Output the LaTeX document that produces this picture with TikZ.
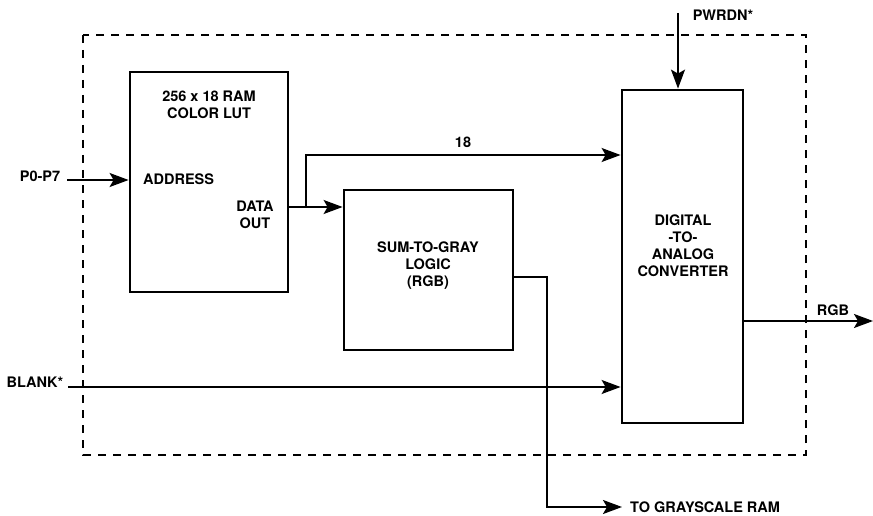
\documentclass[tikz,border=0pt]{standalone}
\usepackage{fontspec}
\setmainfont{TeX Gyre Heros}
\usetikzlibrary{arrows.meta,positioning}
\tikzset{
  blk/.style={draw, line width=2.8pt, inner sep=0pt},
  txt/.style={font=\bfseries\fontsize{14.5}{17}\selectfont, align=center, inner sep=0pt},
  sig/.style={line width=1.7pt, -{Stealth[length=19pt,width=14pt,inset=4pt]}}
}
\begin{document}
\begin{tikzpicture}[x=1pt,y=-1pt]
\useasboundingbox (0,0) rectangle (873,516);
% chip outline
\draw[line width=1.8pt, dash pattern=on 8pt off 7pt] (83,35) rectangle (806,455);
% blocks
\node[blk, minimum width=158pt, minimum height=220pt] (lut) at (209,182) {};
\node[blk, minimum width=169pt, minimum height=160pt] (gray) at (428.5,270) {};
\node[blk, minimum width=121pt, minimum height=333pt] (dac) at (682.5,256.5) {};
% block texts
\node[txt, below=20pt of lut.north] (luttitle) {256 x 18 RAM\\COLOR LUT};
\node[txt, anchor=west] (addr) at (143,179) {ADDRESS};
\node[txt] (dataout) at (255,214.5) {DATA\\OUT};
\node[txt] (graytext) at (428,266) {SUM-TO-GRAY\\LOGIC\\(RGB)};
\node[txt] (dactext) at (683,246) {DIGITAL\\-TO-\\ANALOG\\CONVERTER};
% signal names
\node[txt] (p0label) at (40,176) {P0-P7};
\node[txt] (blanklabel) at (35,382) {BLANK*};
\node[txt] (pwrlabel) at (723,15) {PWRDN*};
\node[txt] (rgblabel) at (833,310) {RGB};
\node[txt] (buslabel) at (463,142) {18};
\node[txt, anchor=west] (gslabel) at (630,507) {TO GRAYSCALE RAM};
% free ends
\coordinate (p0) at (67,180);
\coordinate (blank) at (68,387);
\coordinate (pwr) at (678,13);
\coordinate (rgbout) at (873,321);
\coordinate (gsram) at (622,507);
\coordinate (dout) at (288,207);
\coordinate (tap) at (306,207);
\coordinate (gout) at (513,277);
% connectors
\draw[sig] (p0) -- (lut.west |- p0);
\draw[sig] (dout) -- (gray.west |- dout);
\draw[sig] (tap) |- (dac.west |- 0,155);
\draw[sig] (gout) -| (547,507) -- (gsram);
\draw[sig] (pwr) -- (pwr |- dac.north);
\draw[sig] (dac.east |- rgbout) -- (rgbout);
\draw[sig] (blank) -- (dac.west |- blank);
\end{tikzpicture}
\end{document}
